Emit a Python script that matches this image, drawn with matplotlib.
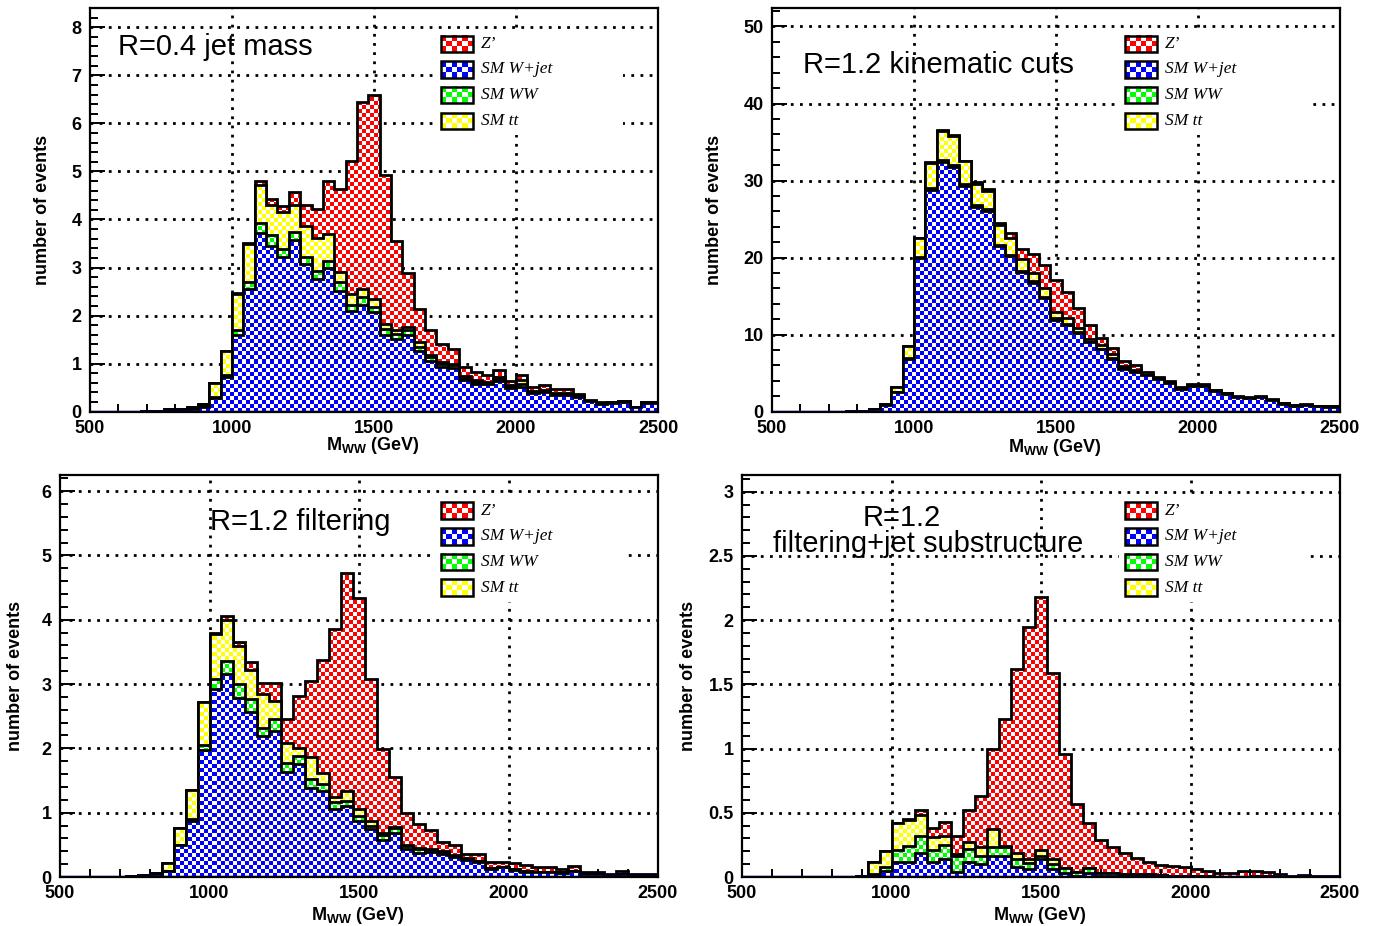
import matplotlib
matplotlib.use('Agg')
import matplotlib.pyplot as plt
import matplotlib.colors as mcolors
import numpy as np
from matplotlib.patches import Rectangle
from matplotlib.ticker import MultipleLocator, FuncFormatter

plt.rcParams['font.family'] = ['Liberation Sans', 'DejaVu Sans']
plt.rcParams['font.weight'] = 'bold'
plt.rcParams['mathtext.fontset'] = 'custom'
plt.rcParams['mathtext.bf'] = 'Liberation Sans:bold'
plt.rcParams['mathtext.rm'] = 'Liberation Sans:bold'

# 40 GeV bins, lower edges 480 ... 2480
edges = np.arange(480, 2521, 40)

labels = ['Z\u2019', 'SM W+jet', 'SM WW', 'SM tt']

# R=0.4 jet mass
p1_zp = [0, 0, 0, 0, 0, 0, 0, 0, 0, 0, 0, 0, 0, 0.02, 0.02,
         0.09, 0.12, 0.12, 0.26, 0.44, 0.61, 1.10, 1.74, 2.76, 3.90,
         4.26, 3.10, 1.85, 1.12, 0.69, 0.50, 0.38, 0.30, 0.20, 0.18,
         0.14, 0.13, 0.09, 0.10, 0.08, 0.09, 0.09, 0.09, 0.03, 0.02,
         0.02, 0.01, 0.01, 0.01, 0.01, 0.01]
p1_wjet = [0, 0, 0, 0, 0, 0.01, 0.02, 0.03, 0.03, 0.06, 0.10, 0.28, 0.72, 1.59, 2.55,
           3.72, 3.45, 3.21, 3.57, 3.07, 2.76, 3.00, 2.52, 2.09, 2.23,
           2.07, 1.59, 1.52, 1.59, 1.26, 1.06, 0.92, 0.90, 0.66, 0.57,
           0.57, 0.63, 0.50, 0.52, 0.38, 0.41, 0.34, 0.34, 0.30, 0.22,
           0.17, 0.19, 0.21, 0.09, 0.19, 0.19]
p1_ww = [0, 0, 0, 0, 0, 0, 0, 0, 0, 0, 0.01, 0.02, 0.04, 0.10, 0.15,
         0.21, 0.23, 0.17, 0.17, 0.14, 0.16, 0.14, 0.17, 0.14, 0.15,
         0.10, 0.13, 0.10, 0.10, 0.08, 0.08, 0.08, 0.07, 0.05, 0.05,
         0.03, 0.05, 0.03, 0.06, 0.04, 0.03, 0.03, 0.03, 0.02, 0.01,
         0.01, 0.01, 0.01, 0, 0.01, 0.01]
p1_tt = [0, 0, 0, 0, 0, 0, 0, 0.02, 0.02, 0.04, 0.06, 0.29, 0.50, 0.76, 0.78,
         0.79, 0.63, 0.78, 0.57, 0.65, 0.69, 0.55, 0.21, 0.22, 0.17,
         0.17, 0.11, 0.08, 0.07, 0.11, 0.05, 0.03, 0.03, 0.03, 0.03,
         0.02, 0.05, 0.02, 0.08, 0.02, 0.02, 0.02, 0.02, 0.01, 0,
         0, 0, 0, 0, 0, 0]

# R=1.2 kinematic cuts
p2_zp = [0, 0, 0, 0, 0, 0, 0, 0, 0, 0, 0, 0, 0, 0.1, 0.1,
         0.1, 0.1, 0.1, 0.2, 0.3, 0.3, 0.7, 1.3, 2.5, 3.0,
         4.1, 3.5, 2.6, 1.8, 1.0, 0.8, 0.7, 0.6, 0.4, 0.25,
         0.15, 0.12, 0.12, 0.12, 0.1, 0.08, 0.05, 0.05, 0.05, 0.05,
         0.03, 0.02, 0.02, 0.02, 0.02, 0.02]
p2_wjet = [0, 0, 0, 0, 0, 0, 0.02, 0.05, 0.15, 0.35, 0.85, 2.5, 6.9, 19.9, 28.8,
           32.4, 31.8, 29.3, 26.6, 26.1, 21.5, 20.2, 18.1, 16.7, 14.7,
           11.9, 11.2, 10.2, 9.0, 8.1, 6.9, 5.6, 5.2, 4.7, 4.2,
           3.7, 3.0, 3.4, 3.4, 2.7, 2.35, 1.9, 1.75, 1.9, 1.5,
           1.05, 0.8, 0.9, 0.74, 0.65, 0.65]
p2_ww = [0, 0, 0, 0, 0, 0, 0, 0, 0, 0, 0, 0.05, 0.1, 0.2, 0.3,
         0.3, 0.2, 0.2, 0.2, 0.2, 0.2, 0.2, 0.2, 0.2, 0.2,
         0.2, 0.2, 0.2, 0.1, 0.1, 0.1, 0.1, 0.1, 0.05, 0.05,
         0.05, 0.05, 0.05, 0.05, 0.03, 0.03, 0.03, 0.03, 0.03, 0.03,
         0.02, 0.02, 0.02, 0.02, 0.02, 0.02]
p2_tt = [0, 0, 0, 0, 0, 0, 0, 0, 0, 0.05, 0.1, 0.7, 1.5, 2.4, 3.2,
         3.7, 3.8, 3.0, 2.8, 2.3, 2.5, 2.1, 1.5, 1.1, 1.1,
         0.9, 0.7, 0.4, 0.4, 0.4, 0.5, 0.2, 0.1, 0.05, 0.05,
         0.03, 0.03, 0.03, 0.03, 0.03, 0.02, 0.02, 0.02, 0.02, 0.02,
         0.01, 0.01, 0.01, 0.01, 0.01, 0.01]

# R=1.2 filtering
p3_zp = [0, 0, 0, 0, 0, 0, 0, 0, 0, 0, 0, 0, 0, 0.02, 0.06,
         0.06, 0.12, 0.17, 0.27, 0.36, 0.82, 1.18, 1.75, 2.61, 3.38,
         3.27, 2.21, 1.31, 0.78, 0.50, 0.38, 0.29, 0.15, 0.15, 0.06,
         0.11, 0.09, 0.07, 0.09, 0.09, 0.08, 0.07, 0.06, 0.07, 0.04,
         0.03, 0.02, 0.04, 0.02, 0.02, 0.02]
p3_wjet = [0, 0, 0, 0, 0, 0, 0.01, 0.02, 0.04, 0.09, 0.49, 0.87, 1.98, 2.93, 3.15,
           2.79, 2.56, 2.19, 2.27, 1.63, 1.75, 1.39, 1.34, 1.05, 1.10,
           0.87, 0.74, 0.58, 0.69, 0.43, 0.37, 0.39, 0.36, 0.31, 0.26,
           0.23, 0.13, 0.15, 0.11, 0.08, 0.07, 0.07, 0.06, 0.09, 0.04,
           0.04, 0.03, 0.05, 0.02, 0.02, 0.02]
p3_ww = [0, 0, 0, 0, 0, 0, 0, 0, 0, 0, 0.01, 0.03, 0.07, 0.15, 0.21,
         0.21, 0.21, 0.13, 0.19, 0.15, 0.13, 0.13, 0.10, 0.11, 0.08,
         0.08, 0.05, 0.08, 0.07, 0.05, 0.06, 0.03, 0.02, 0.02, 0.02,
         0.02, 0.01, 0.01, 0.01, 0.01, 0.01, 0.01, 0.01, 0.01, 0,
         0, 0, 0, 0, 0, 0]
p3_tt = [0, 0, 0, 0, 0, 0, 0, 0.01, 0.02, 0.12, 0.26, 0.45, 0.67, 0.70, 0.64,
         0.59, 0.45, 0.52, 0.28, 0.31, 0.12, 0.35, 0.18, 0.09, 0.16,
         0.11, 0.08, 0.02, 0.02, 0.02, 0.02, 0.02, 0.02, 0.01, 0.01,
         0, 0, 0, 0, 0, 0, 0, 0, 0, 0,
         0, 0, 0, 0, 0, 0]

# R=1.2 filtering + jet substructure
p4_zp = [0, 0, 0, 0, 0, 0, 0, 0, 0, 0, 0, 0, 0, 0, 0.01,
         0.04, 0.07, 0.11, 0.14, 0.25, 0.40, 0.63, 0.99, 1.43, 1.81,
         1.97, 1.45, 0.89, 0.53, 0.35, 0.26, 0.20, 0.17, 0.13, 0.10,
         0.08, 0.08, 0.07, 0.06, 0.04, 0.03, 0.03, 0.05, 0.04, 0.03,
         0.02, 0.01, 0.015, 0.01, 0.005, 0.005]
p4_wjet = [0, 0, 0, 0, 0, 0, 0, 0, 0, 0, 0, 0.01, 0.05, 0.12, 0.12,
           0.19, 0.12, 0.14, 0.04, 0.12, 0.10, 0.16, 0.16, 0.08, 0.06,
           0.14, 0.06, 0.03, 0.01, 0.03, 0.01, 0.01, 0.01, 0.01, 0.01,
           0.005, 0.005, 0.005, 0.005, 0.005, 0, 0, 0, 0, 0,
           0, 0, 0, 0, 0, 0]
p4_ww = [0, 0, 0, 0, 0, 0, 0, 0, 0, 0, 0, 0.01, 0.03, 0.09, 0.12,
         0.13, 0.09, 0.11, 0.12, 0.10, 0.06, 0.07, 0.07, 0.06, 0.05,
         0.02, 0.04, 0.04, 0.03, 0.04, 0.02, 0.02, 0.01, 0.01, 0.01,
         0.01, 0, 0, 0, 0, 0, 0, 0, 0.01, 0.01,
         0, 0, 0, 0, 0, 0]
p4_tt = [0, 0, 0, 0, 0, 0, 0, 0, 0, 0, 0.01, 0.10, 0.12, 0.21, 0.20,
         0.16, 0.10, 0.07, 0.02, 0.05, 0.07, 0.14, 0.01, 0.05, 0.03,
         0.05, 0.04, 0, 0, 0, 0, 0, 0, 0, 0,
         0, 0, 0, 0, 0, 0, 0, 0, 0, 0,
         0, 0, 0, 0, 0, 0]

RED, BLUE, GREEN, YELLOW = '#ff0000', '#0000ff', '#00ff00', '#ffff00'

W, H = 1383, 926
fig = plt.figure(figsize=(W / 100, H / 100), dpi=100)


def checker(color, nx, ny):
    img = np.ones((ny, nx, 3))
    mask = (np.add.outer(np.arange(ny), np.arange(nx)) % 2) == 0
    img[mask] = mcolors.to_rgb(color)
    return img


panels = [
    dict(rect=[90, 8, 568, 403.7], ymax=8.4, major=1, minor=0.2,
         data=(p1_wjet, p1_ww, p1_tt, p1_zp),
         texts=[('R=0.4 jet mass', 0.049, 0.903)],
         ylab=(-0.069, 0.5), xlab=(0.497, -0.058)),
    dict(rect=[772, 8, 568, 403.7], ymax=52.4, major=10, minor=2,
         data=(p2_wjet, p2_ww, p2_tt, p2_zp),
         texts=[('R=1.2 kinematic cuts', 0.055, 0.859)],
         ylab=(-0.086, 0.5), xlab=(0.498, -0.063)),
    dict(rect=[60, 475, 598, 402], ymax=6.25, major=1, minor=0.2,
         data=(p3_wjet, p3_ww, p3_tt, p3_zp),
         texts=[('R=1.2 filtering', 0.251, 0.883)],
         ylab=(-0.061, 0.5), xlab=(0.498, -0.069)),
    dict(rect=[742, 475, 598, 402], ymax=3.13, major=0.5, minor=0.1,
         data=(p4_wjet, p4_ww, p4_tt, p4_zp),
         texts=[('R=1.2', 0.202, 0.892),
                ('filtering+jet substructure', 0.052, 0.829)],
         ylab=(-0.075, 0.5), xlab=(0.498, -0.069)),
]

for p in panels:
    x0, y0, w, h = p['rect']
    ax = fig.add_axes([x0 / W, (H - y0 - h) / H, w / W, h / H])
    ax.set_xlim(500, 2500)
    ax.set_ylim(0, p['ymax'])

    # dotted grid behind the histograms
    for gx in [1000, 1500, 2000]:
        ax.axvline(gx, color='k', ls=(0, (1, 2.3)), lw=2, zorder=0.3)
    gy = p['major']
    while gy < p['ymax'] - 1e-9:
        ax.axhline(gy, color='k', ls=(0, (1, 2.3)), lw=2, zorder=0.3)
        gy += p['major']

    wjet, ww, tt, zp = [np.array(a, dtype=float) for a in p['data']]
    c1 = wjet
    c2 = c1 + ww
    c3 = c2 + tt
    c4 = c3 + zp
    nx, ny = int(w / 4), int(h / 4)
    z = 1
    for top, col in [(c4, RED), (c3, YELLOW), (c2, GREEN), (c1, BLUE)]:
        patch = ax.stairs(top, edges, baseline=0, fill=True,
                          facecolor='none', edgecolor='none', zorder=z)
        im = ax.imshow(checker(col, nx, ny), extent=[500, 2500, 0, p['ymax']],
                       aspect='auto', interpolation='nearest', zorder=z)
        im.set_clip_path(patch)
        ax.stairs(top, edges, baseline=0, color='k', lw=2, zorder=z + 0.5)
        z += 1
    ax.axhline(0, color=BLUE, lw=2.5, zorder=10)

    ax.xaxis.set_major_locator(MultipleLocator(500))
    ax.xaxis.set_minor_locator(MultipleLocator(100))
    ax.yaxis.set_major_locator(MultipleLocator(p['major']))
    ax.yaxis.set_minor_locator(MultipleLocator(p['minor']))
    ax.yaxis.set_major_formatter(FuncFormatter(lambda v, pos: '%g' % round(v, 3)))
    ax.tick_params(which='both', direction='in', top=False, right=False,
                   width=1.4, labelsize=13, pad=6)
    ax.tick_params(which='major', length=11)
    ax.tick_params(which='minor', length=6)
    for s in ax.spines.values():
        s.set_linewidth(1.6)
        s.set_zorder(12)

    ax.set_ylabel('number of events', fontsize=13, fontweight='bold')
    ax.yaxis.set_label_coords(*p['ylab'])
    ax.set_xlabel(r'M$_\mathbf{WW}$ (GeV)', fontsize=13, fontweight='bold')
    ax.xaxis.set_label_coords(*p['xlab'])

    for t, tx, ty in p['texts']:
        ax.text(tx, ty, t, transform=ax.transAxes, fontsize=21,
                fontweight='normal', va='center', ha='left', zorder=20)

    # legend: white box, checkered swatches, serif italic labels
    bx0 = (441 - x0) / w if x0 < 700 else (1125 - x0) / w
    bw = 32 / w
    bh = 16.5 / h
    step = 25.7 / h
    ax.add_patch(Rectangle((bx0 - 6 / w, 0.891 - 3 * step - 6 / h),
                           188 / w, 3 * step + bh + 12 / h,
                           transform=ax.transAxes, fc='white', ec='none',
                           zorder=19))
    for k, (lab, col) in enumerate(zip(labels, [RED, BLUE, GREEN, YELLOW])):
        by = 0.891 - k * step
        ax.imshow(checker(col, 6, 3), extent=[bx0, bx0 + bw, by, by + bh],
                  transform=ax.transAxes, aspect='auto',
                  interpolation='nearest', zorder=21)
        ax.add_patch(Rectangle((bx0, by), bw, bh, transform=ax.transAxes,
                               fill=False, ec='k', lw=1.8, zorder=22))
        ax.text(bx0 + bw + 8 / w, by + bh / 2, lab, transform=ax.transAxes,
                family=['Liberation Serif', 'DejaVu Serif'], style='italic',
                fontweight='normal', fontsize=12.5, va='center', ha='left',
                zorder=22)
    ax.set_xlim(500, 2500)
    ax.set_ylim(0, p['ymax'])

fig.savefig('out.png', dpi=100)
